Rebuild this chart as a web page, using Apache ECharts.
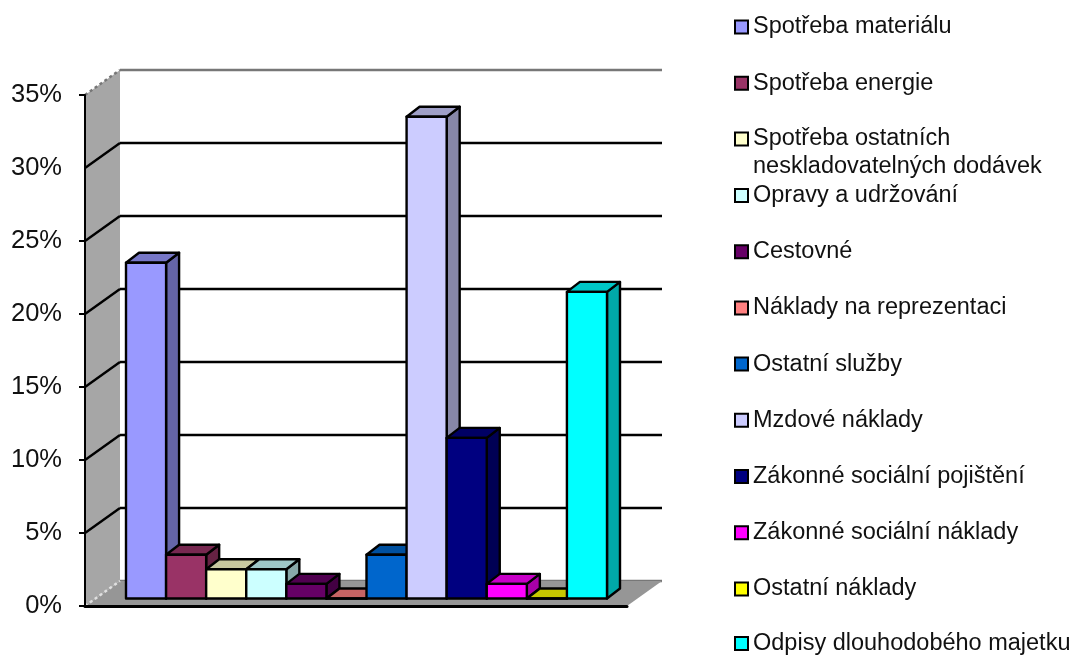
<!DOCTYPE html>
<html><head><meta charset="utf-8">
<script src="https://cdn.jsdelivr.net/npm/echarts@6/dist/echarts.min.js"></script>
<style>html,body{margin:0;padding:0;background:#fff}#c{width:1078px;height:659px;filter:blur(0.4px)}</style>
</head><body><div id="c"></div>
<script>
const categories = ['Spotřeba materiálu','Spotřeba energie','Spotřeba ostatních neskladovatelných dodávek','Opravy a udržování','Cestovné','Náklady na reprezentaci','Ostatní služby','Mzdové náklady','Zákonné sociální pojištění','Zákonné sociální náklady','Ostatní náklady','Odpisy dlouhodobého majetku'];
const values = [23.0,3.0,2.0,2.0,1.0,0.0,3.0,33.0,11.0,1.0,0.0,21.0];
const colors = ['#9999FF','#993366','#FFFFCC','#CCFFFF','#660066','#FF8080','#0066CC','#CCCCFF','#000080','#FF00FF','#FFFF00','#00FFFF'];
const tickValues = [0,5,10,15,20,25,30,35];
const markedTicks = [0,5,10,15,20,25,35];

const WALL_DX = 35, WALL_DY = 25, BAR_DX = 13, BAR_DY = 10;
const FONT = '"Liberation Sans", Arial, sans-serif';

function shade(hex, k){
  const n = parseInt(hex.slice(1),16);
  const c = [(n>>16)&255,(n>>8)&255,n&255].map(v=>Math.round(v*k));
  return 'rgb('+c.join(',')+')';
}
function poly(points, fill, stroke, lw){
  return {type:'polygon', shape:{points}, style:{fill, stroke:stroke||null, lineWidth:lw||0, lineJoin:'round'}};
}
function renderBar(params, api){
  const i = api.value(0), v = api.value(1);
  const top = api.coord([i,v]), base = api.coord([i,0]);
  const w = api.size([1,0])[0];
  const color = colors[i];
  const l = top[0]-w/2, r = top[0]+w/2, t = top[1], b = base[1];
  const s = '#000', lw = 2.4;
  return {type:'group', children:[
    poly([[r,b],[r+BAR_DX,b-BAR_DY],[r+BAR_DX,t-BAR_DY],[r,t]], shade(color,0.66), s, lw),
    poly([[l,t],[r,t],[r+BAR_DX,t-BAR_DY],[l+BAR_DX,t-BAR_DY]], shade(color,0.78), s, lw),
    poly([[l,b],[r,b],[r,t],[l,t]], color, s, lw)
  ]};
}
function renderRoom(params, api){
  const g = params.coordSys;
  const x0 = g.x, x1 = g.x+g.width, yT = g.y, yB = g.y+g.height;
  return {type:'group', children:[
    poly([[x0,yT],[x0+WALL_DX,yT-WALL_DY],[x0+WALL_DX,yB-WALL_DY],[x0,yB]], '#A6A6A6'),
    poly([[x0,yB],[x0+WALL_DX,yB-WALL_DY],[x1+WALL_DX,yB-WALL_DY],[x1,yB]], '#969696')
  ]};
}
function renderDiag(params, api){
  const v = api.value(1), p = api.coord([0,v]);
  const x = params.coordSys.x;
  const style = v===35 ? {stroke:'#777',lineWidth:2.5,lineDash:[3,3]}
    : v===0 ? {stroke:'#E0E0E0',lineWidth:2.5,lineDash:[3,3]}
    : {stroke:'#000',lineWidth:2.4};
  return {type:'line', shape:{x1:x,y1:p[1],x2:x+WALL_DX,y2:p[1]-WALL_DY}, style};
}

const barSeries = categories.map((name,i)=>({
  type:'custom', name, xAxisIndex:1, yAxisIndex:1, z:5,
  renderItem:renderBar, data:[[i,values[i]]], encode:{x:0,y:1},
  itemStyle:{color:colors[i]}, animation:false, silent:true
}));
const legendBase = {orient:'vertical', left:734, padding:0, itemWidth:13, itemHeight:13, itemGap:25.2, height:620,
  selectedMode:false, icon:'rect', itemStyle:{borderColor:'#000',borderWidth:2},
  textStyle:{fontFamily:FONT,fontSize:23.5,color:'#111',lineHeight:28,padding:[3,0,0,0]}};

const chart = echarts.init(document.getElementById('c'),null,{renderer:'canvas'});
chart.setOption({
  animation:false, backgroundColor:'#fff',
  grid:[
    {left:85, top:95, width:542, height:511},
    {left:126, top:87.5, width:481, height:511},
    {left:120, top:70, width:542, height:511}
  ],
  xAxis:[
    {gridIndex:0,type:'category',data:categories,axisLabel:{show:false},axisTick:{show:false},
     axisLine:{show:true,onZero:false,lineStyle:{color:'#000',width:3}},z:4},
    {gridIndex:1,type:'category',data:categories,show:false},
    {gridIndex:2,type:'category',data:categories,show:false}
  ],
  yAxis:[
    {gridIndex:0,type:'value',min:0,max:35,interval:5,splitLine:{show:false},
     axisLine:{show:true,lineStyle:{color:'#000',width:2}},
     axisTick:{show:true,length:6,customValues:markedTicks,lineStyle:{color:'#000',width:2}},
     axisLabel:{formatter:'{value}%',fontFamily:FONT,fontSize:25.5,color:'#111',margin:23,padding:[6,0,0,0]},z:4},
    {gridIndex:1,type:'value',min:0,max:35,interval:5,show:false,splitLine:{show:false}},
    {gridIndex:2,type:'value',min:0,max:35,interval:5,axisLine:{show:false},axisTick:{show:false},axisLabel:{show:false},
     splitLine:{show:true,lineStyle:{width:2.4,color:['#777','#000','#000','#000','#000','#000','#000','#777']}}}
  ],
  legend:[
    Object.assign({},legendBase,{top:11.5,data:categories.slice(0,2)}),
    Object.assign({},legendBase,{top:95.5,data:[categories[2]],
      formatter:()=>'\u00a0\nSpotřeba ostatních\nneskladovatelných dodávek'}),
    Object.assign({},legendBase,{top:180,height:477.5,data:categories.slice(3,11)}),
    Object.assign({},legendBase,{top:628,height:31,data:categories.slice(11)})
  ],
  series:[
    {type:'custom',name:'room',xAxisIndex:0,yAxisIndex:0,z:2,silent:true,renderItem:renderRoom,data:[[0,0]],encode:{x:0,y:1}},
    {type:'custom',name:'wallLines',xAxisIndex:0,yAxisIndex:0,z:3,silent:true,renderItem:renderDiag,
     data:tickValues.map(v=>[0,v]),encode:{x:0,y:1}}
  ].concat(barSeries)
});
</script></body></html>
